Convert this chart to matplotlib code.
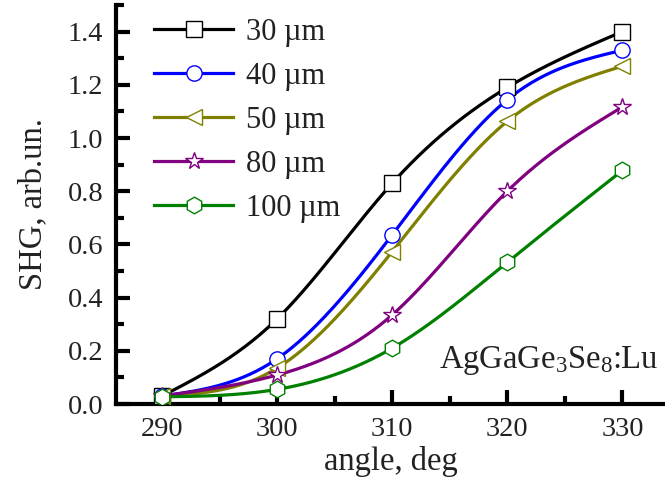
import numpy as np
import matplotlib
matplotlib.use("Agg")
import matplotlib.pyplot as plt
from matplotlib.ticker import MultipleLocator, FormatStrFormatter

plt.rcParams['font.family'] = ['Liberation Serif', 'DejaVu Serif']
plt.rcParams['mathtext.fontset'] = 'custom'
plt.rcParams['mathtext.rm'] = 'Liberation Serif'
plt.rcParams['mathtext.it'] = 'Liberation Serif:italic'

angles = [290, 300, 310, 320, 330]
shg_30 = [0.03, 0.32, 0.83, 1.19, 1.40]
shg_40 = [0.03, 0.17, 0.636, 1.144, 1.33]
shg_50 = [0.03, 0.135, 0.573, 1.063, 1.27]
shg_80 = [0.03, 0.109, 0.335, 0.80, 1.117]
shg_100 = [0.027, 0.055, 0.21, 0.533, 0.878]

labels = ['30 µm', '40 µm', '50 µm', '80 µm', '100 µm']
colors = ['#000000', '#0000FF', '#808000', '#800080', '#008000']
markers = ['s', 'o', '<', '*', 'h']
msizes = [11, 11, 12, 13, 12]
series = [shg_30, shg_40, shg_50, shg_80, shg_100]


def smooth_curve(xs, ys, n=300):
    """Natural cubic interpolating spline through the data points."""
    x = np.asarray(xs, float)
    y = np.asarray(ys, float)
    m = len(x)
    h = np.diff(x)
    A = np.zeros((m, m))
    r = np.zeros(m)
    A[0, 0] = A[-1, -1] = 1.0
    for i in range(1, m - 1):
        A[i, i - 1] = h[i - 1]
        A[i, i] = 2 * (h[i - 1] + h[i])
        A[i, i + 1] = h[i]
        r[i] = 6 * ((y[i + 1] - y[i]) / h[i] - (y[i] - y[i - 1]) / h[i - 1])
    M = np.linalg.solve(A, r)
    xx = np.linspace(x[0], x[-1], n)
    idx = np.clip(np.searchsorted(x, xx) - 1, 0, m - 2)
    x0, x1 = x[idx], x[idx + 1]
    hh = x1 - x0
    a = (x1 - xx) / hh
    b = (xx - x0) / hh
    yy = (a * y[idx] + b * y[idx + 1]
          + ((a ** 3 - a) * M[idx] + (b ** 3 - b) * M[idx + 1]) * hh ** 2 / 6)
    return xx, yy


fig = plt.figure(figsize=(6.65, 4.86), dpi=100)
ax = fig.add_axes([116 / 665, 82 / 486, 1 - 116 / 665, (404 - 5) / 486])

handles = []
for ys, lab, c, mk, ms in zip(series, labels, colors, markers, msizes):
    sx, sy = smooth_curve(angles, ys)
    ax.plot(sx, sy, color=c, lw=2.3, zorder=2)
    ax.plot(angles, ys, ls='none', marker=mk, ms=ms, mfc='white', mec=c,
            mew=1.0, zorder=3)
    h, = ax.plot([], [], color=c, lw=2.3, marker=mk, ms=ms, mfc='white',
                 mec=c, mew=1.0, label=lab)
    handles.append(h)

ax.set_xlim(286.0, 333.7)
ax.set_ylim(0.0, 1.50)
ax.xaxis.set_major_locator(MultipleLocator(10))
ax.xaxis.set_minor_locator(MultipleLocator(5))
ax.yaxis.set_major_locator(MultipleLocator(0.2))
ax.yaxis.set_minor_locator(MultipleLocator(0.1))
ax.yaxis.set_major_formatter(FormatStrFormatter('%.1f'))

for s in ['top', 'right']:
    ax.spines[s].set_visible(False)
for s in ['left', 'bottom']:
    ax.spines[s].set_linewidth(3.0)

ax.tick_params(which='major', direction='in', length=10, width=3.0,
               labelsize=20.5, pad=9, colors='#000000', labelcolor='#222222')
ax.tick_params(which='minor', direction='in', length=6, width=3.0)

ax.set_xlabel('angle, deg', fontsize=23.5, color='#222222', labelpad=3)
ax.set_ylabel('SHG, arb.un.', fontsize=23.5, color='#222222', labelpad=14)

leg = ax.legend(handles=handles, loc='upper left',
                bbox_to_anchor=((154 - 116) / 549, (404 - 18) / 399),
                frameon=False, fontsize=22, handlelength=2.6,
                handletextpad=0.4, labelspacing=0.49, borderpad=0,
                borderaxespad=0)
for txt in leg.get_texts():
    txt.set_color('#222222')

ax.text(0.988, (404 - 368) / 399, 'AgGaGe$_3$Se$_8$:Lu', transform=ax.transAxes,
        ha='right', va='baseline', fontsize=23.5, color='#222222')

fig.savefig('out.png', dpi=100)
